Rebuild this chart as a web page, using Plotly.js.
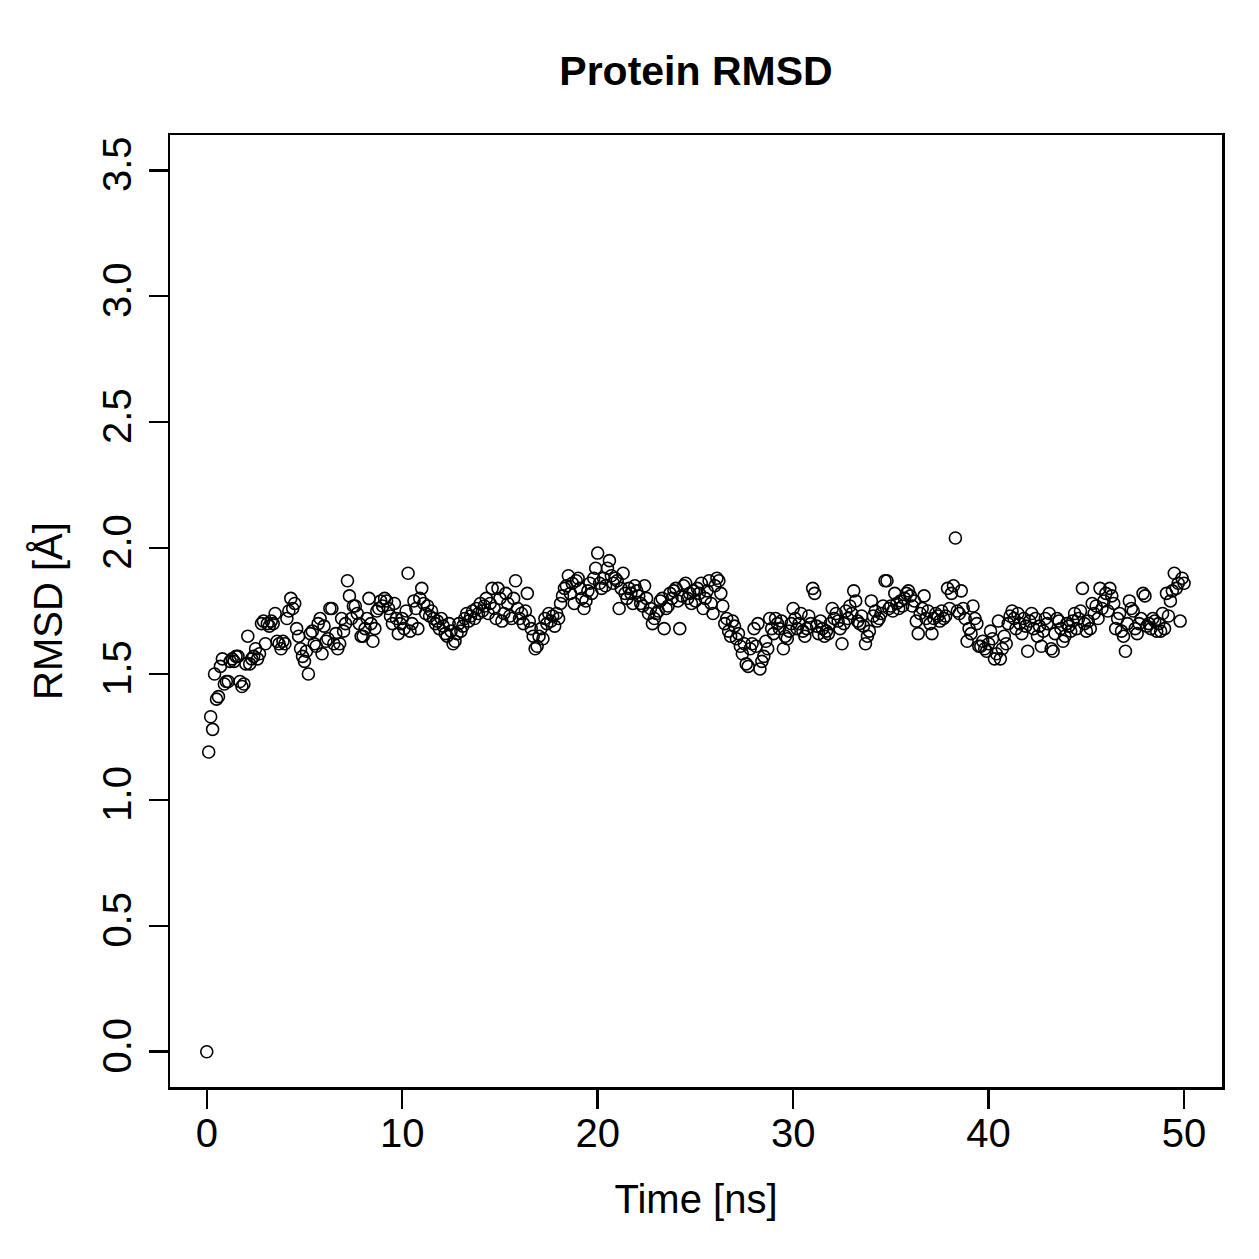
<!DOCTYPE html>
<html>
<head>
<meta charset="utf-8">
<script src="https://cdn.plot.ly/plotly-3.0.1.min.js"></script>
<style>
  html, body { margin: 0; padding: 0; background: #ffffff; }
  #chart { width: 1259px; height: 1259px; }
</style>
</head>
<body>
<div id="chart"></div>
<script>
// Protein backbone RMSD sampled every 0.1 ns over a 50 ns trajectory
const timeStep = 0.1; // ns between frames

const rmsd00to10 = [
  0.00, 1.19, 1.33, 1.28, 1.50, 1.40, 1.41, 1.53, 1.56, 1.46,
  1.47, 1.47, 1.55, 1.56, 1.55, 1.57, 1.57, 1.47, 1.45, 1.46,
  1.54, 1.65, 1.54, 1.56, 1.57, 1.60, 1.56, 1.58, 1.70, 1.71,
  1.62, 1.70, 1.69, 1.71, 1.70, 1.74, 1.63, 1.62, 1.60, 1.63,
  1.62, 1.72, 1.75, 1.80, 1.76, 1.78, 1.68, 1.65, 1.60, 1.57,
  1.55, 1.59, 1.50, 1.66, 1.67, 1.62, 1.61, 1.70, 1.72, 1.58,
  1.69, 1.63, 1.64, 1.76, 1.76, 1.62, 1.66, 1.60, 1.62, 1.72,
  1.67, 1.70, 1.87, 1.81, 1.72, 1.77, 1.77, 1.74, 1.70, 1.65,
  1.65, 1.68, 1.72, 1.80, 1.70, 1.63, 1.68, 1.75, 1.76, 1.79,
  1.77, 1.80, 1.79, 1.76, 1.73, 1.70, 1.78, 1.72, 1.66, 1.70
];

const rmsd10to20 = [
  1.72, 1.68, 1.75, 1.90, 1.67, 1.70, 1.79, 1.76, 1.68, 1.80,
  1.84, 1.78, 1.74, 1.77, 1.73, 1.75, 1.72, 1.70, 1.71, 1.68,
  1.72, 1.69, 1.66, 1.65, 1.70, 1.67, 1.62, 1.63, 1.66, 1.70,
  1.67, 1.69, 1.72, 1.74, 1.71, 1.73, 1.75, 1.72, 1.76, 1.74,
  1.78, 1.75, 1.77, 1.80, 1.74, 1.78, 1.84, 1.76, 1.72, 1.84,
  1.80, 1.71, 1.74, 1.82, 1.78, 1.73, 1.72, 1.80, 1.87, 1.76,
  1.72, 1.74, 1.70, 1.75, 1.82, 1.71, 1.68, 1.65, 1.60, 1.61,
  1.65, 1.68, 1.64, 1.72, 1.70, 1.74, 1.71, 1.73, 1.69, 1.74,
  1.72, 1.78, 1.81, 1.84, 1.85, 1.89, 1.82, 1.86, 1.78, 1.87,
  1.88, 1.84, 1.80, 1.76, 1.79, 1.83, 1.86, 1.82, 1.88, 1.92
];

const rmsd20to30 = [
  1.98, 1.86, 1.84, 1.88, 1.85, 1.92, 1.95, 1.89, 1.86, 1.88,
  1.87, 1.76, 1.84, 1.90, 1.82, 1.80, 1.84, 1.82, 1.78, 1.85,
  1.83, 1.81, 1.78, 1.77, 1.85, 1.80, 1.74, 1.76, 1.70, 1.72,
  1.74, 1.75, 1.79, 1.80, 1.68, 1.76, 1.77, 1.82, 1.80, 1.83,
  1.84, 1.79, 1.68, 1.81, 1.85, 1.86, 1.80, 1.82, 1.78, 1.83,
  1.79, 1.84, 1.82, 1.86, 1.76, 1.80, 1.83, 1.87, 1.78, 1.74,
  1.85, 1.88, 1.87, 1.82, 1.77, 1.70, 1.72, 1.67, 1.65, 1.71,
  1.69, 1.64, 1.66, 1.61, 1.58, 1.62, 1.54, 1.53, 1.60, 1.62,
  1.68, 1.61, 1.70, 1.52, 1.55, 1.57, 1.63, 1.60, 1.72, 1.68,
  1.66, 1.72, 1.70, 1.68, 1.71, 1.60, 1.65, 1.64, 1.67, 1.70
];

const rmsd30to40 = [
  1.76, 1.72, 1.68, 1.70, 1.74, 1.67, 1.65, 1.68, 1.73, 1.70,
  1.84, 1.82, 1.69, 1.66, 1.71, 1.68, 1.65, 1.67, 1.66, 1.70,
  1.76, 1.72, 1.74, 1.71, 1.68, 1.62, 1.70, 1.75, 1.72, 1.77,
  1.74, 1.83, 1.79, 1.71, 1.70, 1.73, 1.69, 1.62, 1.65, 1.67,
  1.79, 1.73, 1.75, 1.71, 1.72, 1.74, 1.77, 1.87, 1.87, 1.76,
  1.77, 1.75, 1.82, 1.78, 1.76, 1.79, 1.77, 1.80, 1.82, 1.83,
  1.81, 1.77, 1.79, 1.71, 1.66, 1.74, 1.76, 1.81, 1.72, 1.75,
  1.70, 1.66, 1.72, 1.74, 1.73, 1.71, 1.75, 1.72, 1.73, 1.84,
  1.76, 1.82, 1.85, 2.04, 1.75, 1.74, 1.83, 1.76, 1.72, 1.63,
  1.68, 1.66, 1.77, 1.72, 1.70, 1.61, 1.61, 1.63, 1.60, 1.59
];

const rmsd40to50 = [
  1.62, 1.67, 1.64, 1.56, 1.58, 1.71, 1.56, 1.60, 1.65, 1.62,
  1.70, 1.73, 1.75, 1.72, 1.68, 1.74, 1.70, 1.66, 1.72, 1.69,
  1.59, 1.71, 1.74, 1.68, 1.72, 1.65, 1.69, 1.61, 1.67, 1.72,
  1.70, 1.74, 1.60, 1.59, 1.66, 1.72, 1.71, 1.68, 1.63, 1.65,
  1.70, 1.69, 1.67, 1.71, 1.74, 1.68, 1.72, 1.75, 1.84, 1.70,
  1.67, 1.71, 1.68, 1.78, 1.74, 1.77, 1.72, 1.84, 1.76, 1.79,
  1.82, 1.75, 1.84, 1.81, 1.78, 1.68, 1.72, 1.74, 1.67, 1.65,
  1.59, 1.70, 1.79, 1.76, 1.75, 1.68, 1.66, 1.70, 1.72, 1.82,
  1.81, 1.69, 1.70, 1.68, 1.72, 1.71, 1.67, 1.70, 1.67, 1.74,
  1.68, 1.82, 1.73, 1.79, 1.83, 1.90, 1.84, 1.86, 1.71, 1.88,
  1.86
];

const xTickVals = [0, 10, 20, 30, 40, 50];
const yTickVals = [0.0, 0.5, 1.0, 1.5, 2.0, 2.5, 3.0, 3.5];

const rmsd = [].concat(rmsd00to10, rmsd10to20, rmsd20to30, rmsd30to40, rmsd40to50);
const time = rmsd.map((_, i) => Math.round(i * timeStep * 10) / 10);

const fontFamily = '"Liberation Sans", Arial, Helvetica, sans-serif';

const trace = {
  type: 'scatter',
  mode: 'markers',
  x: time,
  y: rmsd,
  marker: {
    symbol: 'circle-open',
    size: 12,
    color: '#000000',
    line: { color: '#000000', width: 1.6 }
  },
  hoverinfo: 'x+y'
};

const axisCommon = {
  showgrid: false,
  zeroline: false,
  showline: true,
  mirror: true,
  linecolor: '#000000',
  linewidth: 2.5,
  ticks: 'outside',
  ticklen: 19,
  tickwidth: 2.5,
  tickcolor: '#000000',
  tickfont: { family: fontFamily, size: 40, color: '#000000' }
};

const layout = {
  width: 1259,
  height: 1259,
  paper_bgcolor: '#ffffff',
  plot_bgcolor: '#ffffff',
  showlegend: false,
  margin: { l: 170, r: 37, t: 135, b: 172 },
  title: {
    text: 'Protein RMSD',
    font: { family: fontFamily, size: 41, color: '#000000', weight: 'bold' },
    x: 0.5,
    xref: 'paper',
    xanchor: 'center',
    y: 1 - 71 / 1259,
    yref: 'container',
    yanchor: 'middle'
  },
  xaxis: Object.assign({}, axisCommon, {
    range: [-1.88, 51.94],
    tickvals: xTickVals,
    ticktext: xTickVals.map(String),
    ticklabelstandoff: -10,
    title: {
      text: 'Time [ns]',
      font: { family: fontFamily, size: 40, color: '#000000' },
      standoff: 32
    }
  }),
  yaxis: Object.assign({}, axisCommon, {
    range: [-0.14, 3.64],
    tickvals: yTickVals,
    ticktext: yTickVals.map(v => v.toFixed(1)),
    tickangle: -90,
    ticklabelstandoff: 2,
    title: {
      text: 'RMSD [Å]',
      font: { family: fontFamily, size: 40, color: '#000000' },
      standoff: 20
    }
  })
};

Plotly.newPlot('chart', [trace], layout, { staticPlot: true, displayModeBar: false });
</script>
</body>
</html>
